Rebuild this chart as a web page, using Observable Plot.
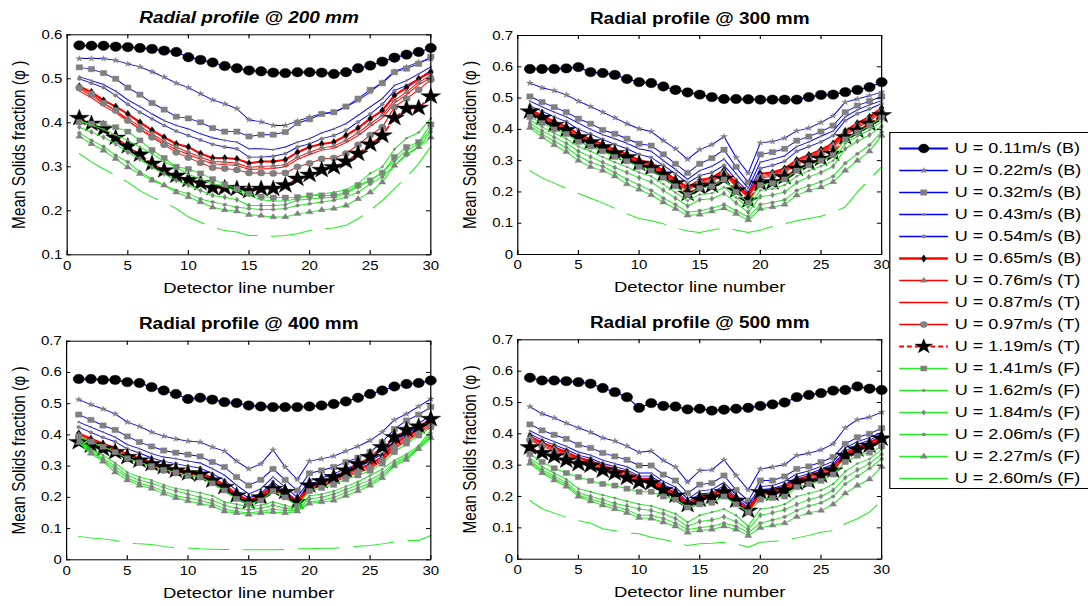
<!DOCTYPE html>
<html><head><meta charset="utf-8">
<script src="https://cdn.jsdelivr.net/npm/d3@7"></script>
<script src="https://cdn.jsdelivr.net/npm/@observablehq/plot@0.6"></script>
<style>
html,body{margin:0;padding:0;background:#fff;overflow:hidden;width:1088px;height:606px;}
#page{position:absolute;left:0;top:0;width:907px;height:606px;transform:scaleX(1.2);transform-origin:0 0;font-family:"Liberation Sans",Arial,Helvetica,sans-serif;}
.panel{position:absolute;}
#legend{position:absolute;left:740.5px;top:132px;width:200px;height:355px;border:1px solid #000;background:#fff;}
</style></head><body><div id="page"></div>
<script>
// ---------- data ----------
const detector = [1,2,3,4,5,6,7,8,9,10,11,12,13,14,15,16,17,18,19,20,21,22,23,24,25,26,27,28,29,30];
const seriesLabels = ["U = 0.11m/s (B)","U = 0.22m/s (B)","U = 0.32m/s (B)","U = 0.43m/s (B)","U = 0.54m/s (B)","U = 0.65m/s (B)","U = 0.76m/s (T)","U = 0.87m/s (T)","U = 0.97m/s (T)","U = 1.19m/s (T)","U = 1.41m/s (F)","U = 1.62m/s (F)","U = 1.84m/s (F)","U = 2.06m/s (F)","U = 2.27m/s (F)","U = 2.60m/s (F)"];
const titles = ["Radial profile @ 200 mm","Radial profile @ 300 mm","Radial profile @ 400 mm","Radial profile @ 500 mm"];
const xLabel = "Detector line number";
const yLabel = "Mean Solids fraction (\u03C6 )";
const xTicks = [0,5,10,15,20,25,30];
const yTicks200 = [0.1,0.2,0.3,0.4,0.5,0.6];
const yTicksOther = [0,0.1,0.2,0.3,0.4,0.5,0.6,0.7];

const phi200 = [
[0.576,0.575,0.575,0.573,0.572,0.570,0.568,0.564,0.561,0.549,0.543,0.537,0.529,0.524,0.519,0.517,0.514,0.513,0.515,0.515,0.514,0.511,0.515,0.524,0.530,0.539,0.548,0.555,0.561,0.570],
[0.546,0.546,0.546,0.542,0.534,0.527,0.516,0.504,0.490,0.480,0.466,0.452,0.443,0.432,0.407,0.402,0.394,0.394,0.404,0.413,0.421,0.424,0.436,0.451,0.470,0.492,0.517,0.527,0.538,0.545],
[0.526,0.522,0.513,0.500,0.480,0.464,0.445,0.430,0.414,0.410,0.401,0.388,0.380,0.380,0.369,0.373,0.373,0.379,0.399,0.408,0.420,0.424,0.437,0.455,0.475,0.490,0.515,0.523,0.534,0.550],
[0.505,0.496,0.487,0.472,0.452,0.437,0.420,0.405,0.394,0.386,0.375,0.366,0.360,0.356,0.341,0.341,0.339,0.345,0.356,0.364,0.377,0.386,0.398,0.417,0.436,0.455,0.485,0.496,0.511,0.527],
[0.500,0.490,0.480,0.462,0.442,0.424,0.409,0.394,0.381,0.371,0.361,0.351,0.345,0.341,0.322,0.322,0.324,0.330,0.345,0.352,0.364,0.371,0.383,0.402,0.420,0.442,0.473,0.485,0.500,0.519],
[0.483,0.470,0.451,0.437,0.420,0.401,0.383,0.367,0.352,0.345,0.330,0.320,0.320,0.318,0.308,0.312,0.312,0.316,0.333,0.345,0.352,0.356,0.371,0.388,0.409,0.428,0.462,0.480,0.500,0.515],
[0.477,0.462,0.443,0.428,0.409,0.392,0.375,0.358,0.345,0.333,0.322,0.312,0.311,0.308,0.299,0.301,0.302,0.305,0.322,0.333,0.343,0.347,0.360,0.377,0.398,0.417,0.451,0.470,0.492,0.508],
[0.472,0.457,0.438,0.423,0.404,0.386,0.370,0.353,0.339,0.328,0.317,0.307,0.305,0.303,0.294,0.295,0.296,0.300,0.317,0.328,0.338,0.342,0.355,0.371,0.392,0.411,0.445,0.464,0.487,0.502],
[0.480,0.466,0.445,0.428,0.405,0.385,0.367,0.350,0.333,0.321,0.309,0.298,0.296,0.293,0.286,0.286,0.285,0.286,0.300,0.308,0.318,0.320,0.330,0.350,0.372,0.390,0.436,0.455,0.475,0.498],
[0.411,0.398,0.386,0.366,0.347,0.328,0.307,0.292,0.280,0.270,0.263,0.252,0.252,0.250,0.245,0.250,0.250,0.258,0.273,0.282,0.293,0.299,0.312,0.330,0.351,0.371,0.411,0.432,0.434,0.460],
[0.401,0.398,0.398,0.390,0.380,0.360,0.338,0.320,0.300,0.295,0.285,0.272,0.260,0.250,0.239,0.232,0.230,0.230,0.231,0.235,0.235,0.235,0.242,0.258,0.269,0.286,0.322,0.345,0.356,0.396],
[0.405,0.395,0.385,0.372,0.360,0.345,0.330,0.312,0.298,0.283,0.272,0.262,0.255,0.245,0.235,0.225,0.222,0.222,0.228,0.235,0.238,0.242,0.248,0.262,0.285,0.300,0.340,0.365,0.378,0.410],
[0.390,0.379,0.367,0.352,0.333,0.318,0.299,0.284,0.269,0.258,0.246,0.235,0.231,0.225,0.212,0.212,0.212,0.214,0.224,0.227,0.229,0.231,0.239,0.254,0.269,0.288,0.314,0.337,0.352,0.386],
[0.377,0.360,0.346,0.326,0.311,0.288,0.273,0.258,0.246,0.239,0.227,0.220,0.214,0.208,0.205,0.203,0.203,0.205,0.212,0.216,0.220,0.224,0.231,0.242,0.261,0.277,0.303,0.326,0.345,0.379],
[0.369,0.352,0.337,0.318,0.299,0.284,0.269,0.258,0.242,0.231,0.220,0.208,0.202,0.199,0.191,0.189,0.186,0.186,0.193,0.197,0.202,0.205,0.212,0.227,0.242,0.265,0.303,0.330,0.345,0.367],
[0.330,0.311,0.295,0.280,0.265,0.246,0.231,0.220,0.205,0.186,0.174,0.163,0.155,0.152,0.144,0.144,0.142,0.144,0.148,0.155,0.159,0.161,0.167,0.182,0.201,0.223,0.250,0.277,0.307,0.346]
];

const phi300 = [
[0.593,0.593,0.593,0.595,0.599,0.583,0.580,0.574,0.561,0.551,0.548,0.537,0.526,0.518,0.511,0.503,0.497,0.497,0.496,0.495,0.495,0.495,0.495,0.503,0.510,0.511,0.519,0.526,0.535,0.551],
[0.548,0.533,0.524,0.510,0.490,0.473,0.455,0.437,0.418,0.402,0.393,0.364,0.338,0.304,0.335,0.351,0.377,0.310,0.260,0.357,0.361,0.372,0.395,0.404,0.422,0.443,0.487,0.497,0.508,0.519],
[0.505,0.487,0.471,0.455,0.434,0.418,0.398,0.386,0.370,0.354,0.348,0.320,0.290,0.261,0.290,0.308,0.335,0.280,0.231,0.320,0.327,0.338,0.364,0.377,0.393,0.412,0.455,0.476,0.490,0.505],
[0.490,0.472,0.455,0.440,0.420,0.400,0.383,0.370,0.355,0.338,0.330,0.300,0.272,0.240,0.268,0.282,0.305,0.258,0.212,0.295,0.305,0.315,0.345,0.360,0.378,0.395,0.440,0.462,0.478,0.492],
[0.475,0.458,0.440,0.425,0.400,0.385,0.368,0.352,0.338,0.320,0.310,0.285,0.258,0.228,0.252,0.262,0.285,0.240,0.200,0.275,0.285,0.298,0.330,0.345,0.360,0.380,0.428,0.450,0.465,0.482],
[0.462,0.445,0.425,0.408,0.385,0.368,0.352,0.335,0.320,0.302,0.292,0.268,0.240,0.215,0.238,0.245,0.270,0.228,0.192,0.258,0.262,0.275,0.302,0.318,0.335,0.355,0.395,0.420,0.440,0.468],
[0.458,0.440,0.420,0.402,0.380,0.362,0.346,0.330,0.315,0.298,0.288,0.264,0.236,0.212,0.235,0.240,0.265,0.224,0.188,0.252,0.258,0.270,0.296,0.312,0.330,0.350,0.390,0.415,0.436,0.462],
[0.455,0.436,0.417,0.398,0.376,0.358,0.342,0.326,0.312,0.294,0.284,0.260,0.232,0.208,0.232,0.236,0.262,0.220,0.185,0.248,0.254,0.266,0.292,0.308,0.326,0.346,0.386,0.410,0.432,0.458],
[0.452,0.432,0.413,0.394,0.372,0.354,0.338,0.322,0.308,0.290,0.280,0.256,0.228,0.204,0.228,0.232,0.258,0.216,0.182,0.244,0.250,0.262,0.288,0.304,0.322,0.342,0.382,0.405,0.428,0.452],
[0.457,0.437,0.414,0.398,0.375,0.359,0.343,0.324,0.311,0.290,0.277,0.256,0.228,0.194,0.215,0.220,0.242,0.205,0.173,0.226,0.231,0.247,0.274,0.292,0.306,0.322,0.375,0.396,0.418,0.445],
[0.440,0.420,0.400,0.385,0.360,0.345,0.330,0.312,0.298,0.280,0.268,0.245,0.218,0.190,0.212,0.218,0.240,0.200,0.165,0.222,0.228,0.240,0.268,0.285,0.300,0.318,0.368,0.390,0.412,0.438],
[0.430,0.408,0.388,0.370,0.345,0.330,0.312,0.295,0.280,0.262,0.250,0.225,0.198,0.172,0.192,0.196,0.215,0.182,0.150,0.205,0.210,0.222,0.250,0.268,0.282,0.300,0.355,0.378,0.398,0.425],
[0.420,0.395,0.375,0.355,0.330,0.312,0.295,0.278,0.262,0.245,0.232,0.205,0.180,0.155,0.175,0.178,0.195,0.165,0.135,0.185,0.190,0.200,0.230,0.248,0.262,0.282,0.338,0.362,0.382,0.410],
[0.412,0.385,0.362,0.342,0.315,0.295,0.282,0.262,0.240,0.222,0.205,0.180,0.160,0.135,0.140,0.148,0.160,0.140,0.120,0.160,0.166,0.175,0.205,0.220,0.232,0.250,0.292,0.322,0.350,0.392],
[0.405,0.375,0.350,0.328,0.300,0.280,0.268,0.250,0.225,0.208,0.190,0.167,0.146,0.125,0.128,0.138,0.148,0.130,0.110,0.146,0.152,0.160,0.189,0.205,0.215,0.232,0.268,0.300,0.330,0.380],
[0.268,0.245,0.228,0.212,0.195,0.180,0.165,0.148,0.130,0.115,0.108,0.098,0.085,0.075,0.070,0.078,0.085,0.078,0.070,0.078,0.090,0.098,0.108,0.115,0.122,0.135,0.152,0.200,0.240,0.280]
];

const phi400 = [
[0.579,0.579,0.576,0.576,0.569,0.566,0.553,0.542,0.531,0.515,0.519,0.513,0.505,0.502,0.494,0.491,0.489,0.489,0.489,0.491,0.494,0.499,0.507,0.519,0.531,0.542,0.555,0.563,0.566,0.574],
[0.513,0.497,0.483,0.467,0.441,0.427,0.409,0.396,0.387,0.380,0.377,0.361,0.348,0.316,0.291,0.307,0.352,0.297,0.257,0.316,0.323,0.332,0.348,0.363,0.382,0.409,0.448,0.467,0.491,0.515],
[0.465,0.448,0.430,0.416,0.395,0.377,0.363,0.350,0.343,0.337,0.331,0.313,0.297,0.265,0.238,0.256,0.291,0.256,0.222,0.277,0.286,0.297,0.313,0.327,0.345,0.377,0.419,0.446,0.465,0.489],
[0.441,0.425,0.409,0.393,0.369,0.356,0.340,0.329,0.324,0.316,0.310,0.292,0.271,0.239,0.211,0.227,0.265,0.233,0.200,0.254,0.262,0.275,0.292,0.308,0.324,0.352,0.393,0.414,0.436,0.463],
[0.425,0.408,0.392,0.378,0.355,0.342,0.326,0.315,0.308,0.300,0.294,0.276,0.255,0.222,0.198,0.212,0.250,0.220,0.190,0.245,0.252,0.265,0.282,0.298,0.314,0.340,0.380,0.403,0.425,0.455],
[0.405,0.388,0.372,0.358,0.338,0.325,0.312,0.300,0.292,0.283,0.278,0.262,0.240,0.210,0.190,0.205,0.238,0.215,0.186,0.238,0.248,0.260,0.278,0.292,0.305,0.330,0.372,0.396,0.420,0.446],
[0.400,0.384,0.368,0.352,0.332,0.320,0.306,0.295,0.287,0.279,0.274,0.258,0.236,0.206,0.187,0.202,0.234,0.212,0.183,0.234,0.244,0.256,0.273,0.287,0.300,0.325,0.366,0.390,0.414,0.440],
[0.395,0.380,0.364,0.348,0.328,0.316,0.302,0.291,0.283,0.275,0.270,0.254,0.232,0.202,0.184,0.198,0.230,0.208,0.180,0.230,0.240,0.252,0.269,0.283,0.296,0.320,0.361,0.385,0.409,0.435],
[0.390,0.375,0.358,0.343,0.323,0.311,0.297,0.286,0.278,0.270,0.265,0.249,0.228,0.198,0.180,0.194,0.226,0.204,0.176,0.226,0.236,0.248,0.265,0.279,0.292,0.316,0.356,0.380,0.404,0.430],
[0.377,0.366,0.355,0.345,0.329,0.318,0.307,0.297,0.286,0.277,0.273,0.254,0.233,0.206,0.185,0.200,0.227,0.217,0.185,0.238,0.252,0.265,0.286,0.307,0.329,0.361,0.393,0.416,0.427,0.451],
[0.395,0.378,0.362,0.345,0.325,0.312,0.300,0.288,0.280,0.270,0.265,0.245,0.222,0.195,0.178,0.190,0.220,0.200,0.172,0.220,0.230,0.240,0.258,0.270,0.285,0.308,0.345,0.372,0.398,0.425],
[0.390,0.355,0.335,0.310,0.280,0.265,0.255,0.240,0.228,0.222,0.215,0.205,0.185,0.178,0.170,0.175,0.185,0.175,0.165,0.205,0.210,0.220,0.235,0.250,0.270,0.290,0.318,0.338,0.365,0.415],
[0.385,0.350,0.325,0.300,0.270,0.255,0.245,0.232,0.220,0.210,0.200,0.190,0.175,0.165,0.160,0.165,0.175,0.165,0.160,0.195,0.200,0.210,0.225,0.240,0.255,0.278,0.310,0.330,0.360,0.405],
[0.380,0.345,0.320,0.290,0.262,0.245,0.235,0.220,0.205,0.198,0.190,0.180,0.163,0.155,0.150,0.155,0.162,0.158,0.158,0.185,0.190,0.200,0.215,0.230,0.245,0.270,0.305,0.325,0.358,0.395],
[0.375,0.340,0.315,0.280,0.255,0.238,0.228,0.212,0.198,0.188,0.180,0.172,0.155,0.150,0.145,0.150,0.153,0.150,0.155,0.180,0.185,0.190,0.205,0.220,0.238,0.262,0.300,0.320,0.355,0.390],
[0.075,0.070,0.067,0.062,0.054,0.051,0.049,0.043,0.038,0.038,0.035,0.034,0.033,0.033,0.032,0.032,0.032,0.033,0.035,0.035,0.037,0.037,0.040,0.043,0.046,0.051,0.057,0.062,0.062,0.078]
];

const phi500 = [
[0.579,0.570,0.570,0.568,0.565,0.560,0.546,0.533,0.517,0.483,0.498,0.489,0.487,0.478,0.480,0.474,0.477,0.480,0.483,0.489,0.494,0.500,0.517,0.524,0.530,0.538,0.540,0.551,0.544,0.540],
[0.487,0.464,0.451,0.434,0.419,0.405,0.387,0.377,0.361,0.341,0.345,0.315,0.294,0.246,0.283,0.285,0.317,0.267,0.221,0.288,0.294,0.302,0.331,0.338,0.349,0.368,0.419,0.445,0.453,0.469],
[0.430,0.411,0.397,0.384,0.365,0.355,0.339,0.328,0.317,0.299,0.299,0.270,0.251,0.211,0.238,0.243,0.267,0.221,0.187,0.251,0.251,0.264,0.288,0.296,0.310,0.326,0.368,0.389,0.400,0.418],
[0.410,0.390,0.375,0.360,0.342,0.332,0.316,0.305,0.295,0.275,0.275,0.248,0.230,0.192,0.218,0.222,0.245,0.205,0.172,0.232,0.235,0.248,0.272,0.282,0.296,0.312,0.355,0.375,0.388,0.405],
[0.400,0.380,0.365,0.350,0.332,0.322,0.306,0.295,0.285,0.265,0.265,0.238,0.220,0.183,0.208,0.212,0.235,0.197,0.165,0.222,0.226,0.238,0.262,0.272,0.287,0.303,0.345,0.366,0.380,0.398],
[0.392,0.372,0.357,0.342,0.324,0.314,0.298,0.287,0.277,0.257,0.257,0.230,0.212,0.177,0.200,0.205,0.227,0.190,0.160,0.215,0.220,0.232,0.255,0.265,0.280,0.296,0.338,0.358,0.372,0.392],
[0.388,0.368,0.353,0.338,0.320,0.310,0.294,0.283,0.273,0.253,0.253,0.226,0.208,0.174,0.197,0.201,0.223,0.187,0.157,0.211,0.216,0.228,0.251,0.261,0.276,0.292,0.334,0.354,0.368,0.388],
[0.384,0.364,0.349,0.334,0.316,0.306,0.290,0.279,0.269,0.249,0.249,0.222,0.204,0.171,0.193,0.197,0.219,0.184,0.154,0.207,0.212,0.224,0.247,0.257,0.272,0.288,0.330,0.350,0.364,0.384],
[0.380,0.360,0.345,0.330,0.312,0.302,0.286,0.275,0.265,0.245,0.245,0.218,0.200,0.168,0.190,0.194,0.215,0.181,0.151,0.203,0.208,0.220,0.243,0.253,0.268,0.284,0.326,0.346,0.360,0.380],
[0.357,0.339,0.328,0.315,0.304,0.299,0.283,0.274,0.260,0.246,0.243,0.221,0.203,0.173,0.190,0.198,0.214,0.187,0.155,0.214,0.209,0.219,0.243,0.248,0.267,0.283,0.330,0.350,0.362,0.385],
[0.335,0.310,0.290,0.275,0.262,0.250,0.240,0.235,0.225,0.215,0.215,0.200,0.190,0.165,0.175,0.180,0.200,0.175,0.150,0.190,0.195,0.200,0.230,0.240,0.250,0.270,0.310,0.330,0.340,0.360],
[0.322,0.295,0.275,0.255,0.225,0.215,0.205,0.195,0.185,0.175,0.170,0.158,0.145,0.118,0.140,0.150,0.160,0.140,0.105,0.160,0.165,0.175,0.200,0.210,0.220,0.240,0.280,0.305,0.320,0.350],
[0.315,0.285,0.265,0.245,0.212,0.200,0.190,0.178,0.170,0.160,0.155,0.145,0.130,0.105,0.120,0.125,0.135,0.120,0.095,0.140,0.148,0.158,0.175,0.190,0.200,0.220,0.260,0.285,0.305,0.335],
[0.310,0.280,0.258,0.238,0.205,0.192,0.180,0.168,0.158,0.140,0.140,0.130,0.115,0.095,0.100,0.105,0.115,0.105,0.085,0.115,0.125,0.135,0.155,0.170,0.180,0.200,0.240,0.265,0.290,0.320],
[0.305,0.275,0.252,0.232,0.200,0.185,0.172,0.160,0.148,0.132,0.130,0.118,0.105,0.085,0.092,0.095,0.105,0.095,0.075,0.100,0.108,0.115,0.135,0.148,0.155,0.175,0.210,0.235,0.255,0.295],
[0.187,0.161,0.147,0.134,0.123,0.115,0.097,0.091,0.084,0.081,0.070,0.063,0.054,0.044,0.049,0.051,0.054,0.049,0.038,0.054,0.057,0.060,0.068,0.076,0.086,0.091,0.113,0.129,0.150,0.187]
];

// ---------- styles ----------
const BLUE = "#0000ff", RED = "#ff0000", GREEN = "#22ee22", GRAY = "#808080", BLACK = "#000000";
const seriesStyle = [
  {color: BLUE,  width: 1.2, symbol: "circle",   r: 4.7, fill: BLACK, lw: 2},
  {color: BLUE,  width: 0.9, symbol: "star",     r: 1.8, fill: GRAY,  lw: 1.3},
  {color: BLUE,  width: 0.9, symbol: "square",   r: 3.0, fill: GRAY,  lw: 1.3},
  {color: BLUE,  width: 0.9, symbol: "circle",   r: 1.0, fill: GRAY,  lw: 1.3},
  {color: BLUE,  width: 0.9, symbol: "circle",   r: 1.7, fill: GRAY,  lw: 1.3},
  {color: RED,   width: 2.0, symbol: "diamond",  r: 2.2, fill: BLACK, lw: 2.5},
  {color: RED,   width: 0.9, symbol: "triangle", r: 2.1, fill: GRAY,  lw: 1.3},
  {color: RED,   width: 0.9, symbol: null,       r: 0,   fill: null,  lw: 1.3},
  {color: RED,   width: 0.9, symbol: "circle",   r: 3.1, fill: GRAY,  lw: 1.3},
  {color: RED,   width: 1.5, symbol: "star",     r: 5.2, fill: BLACK, dash: "5,3", legendDash: "4,2.5", lw: 2},
  {color: GREEN, width: 1.0, symbol: "square",   r: 2.9, fill: GRAY,  lw: 1.3},
  {color: GREEN, width: 1.0, symbol: "circle",   r: 1.0, fill: GRAY,  lw: 1.3},
  {color: GREEN, width: 1.0, symbol: "diamond",  r: 1.7, fill: GRAY,  lw: 1.3},
  {color: GREEN, width: 1.0, symbol: "circle",   r: 1.6, fill: GRAY,  lw: 1.3},
  {color: GREEN, width: 1.0, symbol: "triangle", r: 2.2, fill: GRAY,  lw: 1.3},
  {color: GREEN, width: 1.0, symbol: null,       r: 0,   fill: null,  dash: "34,12", legendDash: null, lw: 1.3}
];

const FONT = "'Liberation Sans', Arial, Helvetica, sans-serif";
const page = document.getElementById("page");

function drawPanel(cfg) {
  const fw = cfg.width - cfg.ml - cfg.mr;
  const fh = cfg.height - cfg.mt - cfg.mb;
  const marks = [];
  cfg.values.forEach((vals, i) => {
    const st = seriesStyle[i];
    const rows = detector.map((x, j) => ({x, y: vals[j]}));
    marks.push(Plot.line(rows, {x: "x", y: "y", stroke: st.color, strokeWidth: st.width, strokeDasharray: st.dash}));
    if (st.symbol) marks.push(Plot.dot(rows, {x: "x", y: "y", symbol: st.symbol, r: st.r, fill: st.fill, stroke: st.fill, strokeWidth: 0.4}));
  });
  marks.push(Plot.frame({stroke: "#000", strokeWidth: 1}));
  marks.push(Plot.ruleY(cfg.yTicks, {y: d => d, insetRight: fw - 3.5, stroke: "#000"}));
  marks.push(Plot.ruleY(cfg.yTicks, {y: d => d, insetLeft: fw - 3.5, stroke: "#000"}));
  marks.push(Plot.ruleX(xTicks, {x: d => d, insetTop: fh - 4, stroke: "#000"}));
  marks.push(Plot.ruleX(xTicks, {x: d => d, insetBottom: fh - 4, stroke: "#000"}));
  marks.push(Plot.axisY({ticks: cfg.yTicks, tickSize: 0, tickPadding: 4, fontSize: 12.5, label: null, tickFormat: d => String(d)}));
  marks.push(Plot.axisX({ticks: xTicks, tickSize: 0, tickPadding: 6, fontSize: 12.5, label: null, tickFormat: d => String(d)}));
  marks.push(Plot.text([cfg.title], {text: d => d, frameAnchor: "top", dy: -17, lineAnchor: "middle", textAnchor: "middle", fontSize: 15.8, fontWeight: "bold", fontStyle: cfg.italic ? "italic" : "normal"}));
  marks.push(Plot.text([xLabel], {text: d => d, frameAnchor: "bottom", dy: 33, lineAnchor: "middle", textAnchor: "middle", fontSize: 15.4}));
  marks.push(Plot.text([yLabel], {text: d => d, frameAnchor: "left", dx: -40, rotate: -90, lineAnchor: "middle", textAnchor: "middle", fontSize: 15.4}));
  const svg = Plot.plot({
    width: cfg.width, height: cfg.height,
    marginLeft: cfg.ml, marginRight: cfg.mr, marginTop: cfg.mt, marginBottom: cfg.mb,
    x: {domain: [0, 30]},
    y: {domain: cfg.yDomain},
    style: {fontFamily: FONT, color: "#000", background: "transparent", overflow: "visible"},
    marks
  });
  const div = document.createElement("div");
  div.className = "panel";
  div.style.left = cfg.left + "px";
  div.style.top = cfg.top + "px";
  div.appendChild(svg);
  page.appendChild(div);
}

drawPanel({values: phi200, title: titles[0], italic: true,  yDomain: [0.1, 0.6], yTicks: yTicks200,  left: 0,   top: 0,   width: 370, height: 300, ml: 55.5, mr: 11.5, mt: 34.3, mb: 45.7});
drawPanel({values: phi300, title: titles[1], italic: false, yDomain: [0, 0.7],   yTicks: yTicksOther, left: 370, top: 0,   width: 400, height: 300, ml: 61,   mr: 35.8, mt: 35,   mb: 46});
drawPanel({values: phi400, title: titles[2], italic: false, yDomain: [0, 0.7],   yTicks: yTicksOther, left: 0,   top: 300, width: 370, height: 306, ml: 55,   mr: 11.5, mt: 40.7, mb: 46.7});
drawPanel({values: phi500, title: titles[3], italic: false, yDomain: [0, 0.7],   yTicks: yTicksOther, left: 370, top: 300, width: 400, height: 306, ml: 61,   mr: 35.8, mt: 39.3, mb: 47.3});

// ---------- legend ----------
const legMarks = [];
seriesLabels.forEach((lab, i) => {
  const st = seriesStyle[i];
  legMarks.push(Plot.ruleY([lab], {y: d => d, x1: 7.3, x2: 47.9, stroke: st.color, strokeWidth: st.lw, strokeDasharray: st.legendDash || null}));
  if (st.symbol) legMarks.push(Plot.dot([lab], {y: d => d, x: 27.3, symbol: st.symbol, r: i === 0 ? 4.4 : (i === 9 ? 4.6 : Math.max(st.r, 1.3)), fill: st.fill, stroke: st.fill, strokeWidth: 0.4}));
  legMarks.push(Plot.text([lab], {y: d => d, x: 53.2, text: d => d, textAnchor: "start", lineAnchor: "middle", fontSize: 15}));
});
const legSvg = Plot.plot({
  width: 200, height: 355, margin: 0,
  x: {type: "linear", domain: [0, 200], range: [0, 200], axis: null},
  y: {type: "point", domain: seriesLabels, range: [13, 13 + 22.25 * 15], padding: 0, axis: null},
  style: {fontFamily: FONT, color: "#000", background: "transparent"},
  marks: legMarks
});
const leg = document.createElement("div");
leg.id = "legend";
leg.appendChild(legSvg);
page.appendChild(leg);
</script>
</body></html>
